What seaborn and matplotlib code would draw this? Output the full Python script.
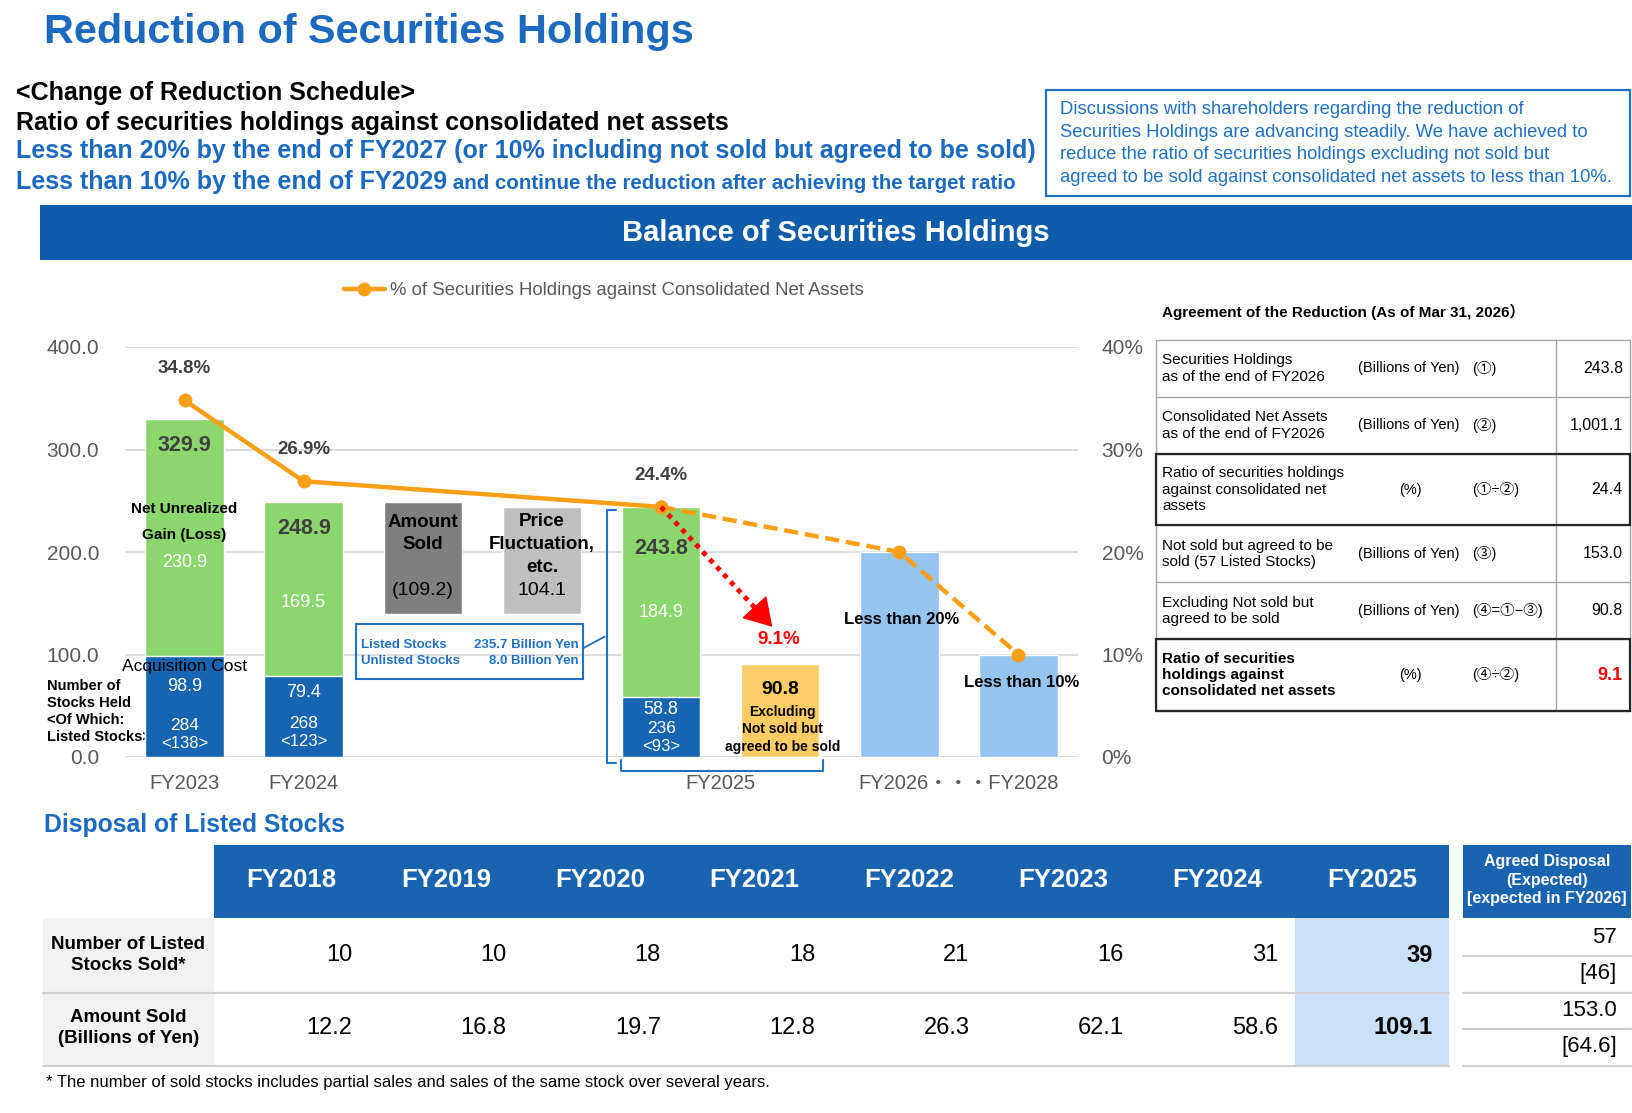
import numpy as np
import pandas as pd
import matplotlib.pyplot as plt
import seaborn as sns
from matplotlib.patches import Rectangle

# ---- chart data (billions of yen / %) ----
categories = ['FY2023', 'FY2024', 'Amount Sold', 'Price Fluctuation',
              'FY2025', 'Excluding', 'FY2026', 'FY2028']
balance_total = [329.9, 248.9, 243.8]
acquisition_cost = [98.9, 79.4, 58.8]
unrealized_gain = [230.9, 169.5, 184.9]
stocks_held = [284, 268, 236]
listed_held = [138, 123, 93]
balance_years = ['FY2023', 'FY2024', 'FY2025']
amount_sold = 109.2
price_fluct = 104.1
excluding_agreed = 90.8
ratio_pct = [34.8, 26.9, 24.4]
target_pct = [20, 10]
excl_ratio = 9.1
listed_balance = 235.7
unlisted_balance = 8.0

# ---- agreement table ----
agree_items = ['Securities Holdings\nas of the end of FY2026',
               'Consolidated Net Assets\nas of the end of FY2026',
               'Ratio of securities holdings\nagainst consolidated net\nassets',
               'Not sold but agreed to be\nsold (57 Listed Stocks)',
               'Excluding Not sold but\nagreed to be sold',
               'Ratio of securities\nholdings against\nconsolidated net assets']
agree_units = ['(Billions of Yen)', '(Billions of Yen)', '(%)',
               '(Billions of Yen)', '(Billions of Yen)', '(%)']
agree_formula = ['(①)', '(②)', '(①÷②)', '(③)', '(④=①−③)', '(④÷②)']
agree_values = ['243.8', '1,001.1', '24.4', '153.0', '90.8', '9.1']

# ---- disposal table ----
disp_years = ['FY2018', 'FY2019', 'FY2020', 'FY2021', 'FY2022', 'FY2023', 'FY2024', 'FY2025']
disp_count = [10, 10, 18, 18, 21, 16, 31, 39]
disp_amount = [12.2, 16.8, 19.7, 12.8, 26.3, 62.1, 58.6, 109.1]
agreed_vals = ['57', '[46]', '153.0', '[64.6]']

W, H = 1633, 1113
TITLE_BLUE = '#1B6AC0'
BANNER = '#0F5DAA'
GREEN = '#8CD66E'
DBLUE = '#1565B0'
LBLUE = '#95C4F0'
ORANGE = '#FA9F16'
GRAYTXT = '#595959'
BRK = '#2070C4'

sns.set_theme(style='white')
plt.rcParams['font.family'] = ['Liberation Sans', 'Noto Sans CJK JP']
plt.rcParams['text.color'] = 'black'

fig = plt.figure(figsize=(W / 100, H / 100), dpi=100)
cv = fig.add_axes([0, 0, 1, 1], zorder=0)
cv.set_xlim(0, W)
cv.set_ylim(H, 0)
cv.axis('off')

# ---- header ----
cv.text(44, 32, 'Reduction of Securities Holdings', fontsize=29.8, weight='bold',
        color=TITLE_BLUE, va='center')
cv.text(16, 93, '<Change of Reduction Schedule>', fontsize=18, weight='bold', va='center')
cv.text(16, 123, 'Ratio of securities holdings against consolidated net assets',
        fontsize=18, weight='bold', va='center')
cv.text(16, 151, 'Less than 20% by the end of FY2027 (or 10% including not sold but agreed to be sold)',
        fontsize=18, weight='bold', color=TITLE_BLUE, va='center')
t = cv.text(16, 189, 'Less than 10% by the end of FY2029', fontsize=18, weight='bold',
            color=TITLE_BLUE, va='baseline')
bb = t.get_window_extent(renderer=fig.canvas.get_renderer())
cv.text(bb.x1, 189, ' and continue the reduction after achieving the target ratio',
        fontsize=14.8, weight='bold', color=TITLE_BLUE, va='baseline')

cv.add_patch(Rectangle((1046, 90), 584, 106, fill=False, ec=BRK, lw=1.6))
box_lines = ['Discussions with shareholders regarding the reduction of',
             'Securities Holdings are advancing steadily. We have achieved to',
             'reduce the ratio of securities holdings excluding not sold but',
             'agreed to be sold against consolidated net assets to less than 10%.']
for i, s in enumerate(box_lines):
    cv.text(1060, 109.5 + i * 22.6, s, fontsize=13.3, color=BRK, va='center')

cv.add_patch(Rectangle((40, 205), W - 40, 55, fc=BANNER, ec='none'))
cv.text(836, 233, 'Balance of Securities Holdings', fontsize=21, weight='bold',
        color='white', ha='center', va='center')

# ---- main chart ----
ax = fig.add_axes([125 / W, 1 - 757 / H, (1078 - 125) / W, (757 - 347) / H])
ax.set_zorder(1)
ax.patch.set_visible(False)

df = pd.DataFrame({'category': balance_years, 'total': balance_total, 'acq': acquisition_cost})
sns.barplot(data=df, x='category', y='total', order=categories, color=GREEN,
            saturation=1, width=0.66, errorbar=None, ax=ax)
sns.barplot(data=df, x='category', y='acq', order=categories, color=DBLUE,
            saturation=1, width=0.66, errorbar=None, ax=ax)
sold_bottom = balance_total[1] - amount_sold
ax.bar(2, amount_sold, bottom=sold_bottom, width=0.66, color='#7F7F7F')
ax.bar(3, price_fluct, bottom=sold_bottom, width=0.66, color='#BFBFBF')
ax.bar(5, excluding_agreed, width=0.66, color='#FFCC66')

ax.set_xlim(-0.5, 7.5)
ax.set_ylim(0, 400)
ax.set_yticks(range(0, 401, 100), [f'{v:.1f}' for v in range(0, 401, 100)])
ax.yaxis.grid(True, color='#D9D9D9', lw=1.3)
ax.set_axisbelow(True)
for s in ax.spines.values():
    s.set_visible(False)
ax.set_xticks([0, 1, 4.5, 6.5], ['FY2023', 'FY2024', 'FY2025', 'FY2026・・・FY2028'])
ax.tick_params(axis='x', length=0, pad=12, labelsize=14.5, labelcolor=GRAYTXT)
ax.tick_params(axis='y', length=0, pad=18.5, labelsize=15, labelcolor=GRAYTXT)
ax.set_xlabel('')
ax.set_ylabel('')

ax2 = ax.twinx()
ax2.set_zorder(2)
ax2.patch.set_visible(False)
ax2.bar([6, 7], target_pct, width=0.66, color=LBLUE)
ax2.set_ylim(0, 40)
ax2.set_yticks(range(0, 41, 10), [f'{v}%' for v in range(0, 41, 10)])
ax2.tick_params(axis='y', length=0, pad=17, labelsize=15, labelcolor=GRAYTXT)
for s in ax2.spines.values():
    s.set_visible(False)
ax2.grid(False)

line_pos = [0, 1, 4]
sns.lineplot(x=line_pos, y=ratio_pct, ax=ax2, color=ORANGE, lw=3.2, marker='o',
             markersize=10, markeredgewidth=0)
sns.lineplot(x=[4, 6, 7], y=[ratio_pct[-1]] + target_pct, ax=ax2, color=ORANGE, lw=3.2,
             linestyle=(0, (3.2, 1.5)), marker='o', markersize=10, markeredgewidth=0)

# red dotted arrow to the ratio excluding agreed sales
ax2.plot([4, 4.84], [ratio_pct[-1], 13.9], color='red', lw=3.5, linestyle=(0, (1, 1.1)))
ax2.annotate('', xy=(4.95, 12.5), xytext=(4.84, 13.9),
             arrowprops=dict(arrowstyle='-|>,head_length=0.9,head_width=0.55',
                             color='red', lw=1, mutation_scale=20))

# labels
for p, v in zip(line_pos, ratio_pct):
    ax2.text(p, v + 3.1, f'{v}%', ha='center', va='center', fontsize=13.5,
             weight='bold', color='#404040')
for p, v, y in zip([0, 1, 4], balance_total, [303.5, 223.4, 203]):
    ax.text(p, y, f'{v:.1f}', ha='center', va='center', fontsize=15.5, weight='bold', color='#404040')
for p, v, y in zip([0, 1, 4], unrealized_gain, [189.8, 150.3, 141]):
    ax.text(p, y, f'{v:.1f}', ha='center', va='center', fontsize=13, color='white')
for p, v, y in zip([0, 1, 4], acquisition_cost, [69, 63, 46.7]):
    ax.text(p, y, f'{v:.1f}', ha='center', va='center', fontsize=13, color='white')
for p, n, m, y in zip([0, 1, 4], stocks_held, listed_held, [30.5, 32.5, 27.4]):
    ax.text(p, y, f'{n}', ha='center', va='center', fontsize=12.5, color='white')
    ax.text(p, y - 17.5, f'<{m}>', ha='center', va='center', fontsize=12, color='white')

ax.text(0, 241.6, 'Net Unrealized', ha='center', va='center', fontsize=11, weight='bold')
ax.text(0, 217, 'Gain (Loss)', ha='center', va='center', fontsize=11, weight='bold')
ax.text(0, 88.3, 'Acquisition Cost', ha='center', va='center', fontsize=12.5)
for i, s in enumerate(['Number of', 'Stocks Held', '<Of Which:', 'Listed Stocks>']):
    cv.text(47, 685.5 + i * 17.3, s, fontsize=10.5, weight='bold', va='center')

ax.text(2, 228.4, 'Amount', ha='center', va='center', fontsize=13.5, weight='bold')
ax.text(2, 207.1, 'Sold', ha='center', va='center', fontsize=13.5, weight='bold')
ax.text(2, 162.4, f'({amount_sold})', ha='center', va='center', fontsize=14)
for s, y in zip(['Price', 'Fluctuation,', 'etc.'], [229.4, 207, 184.8]):
    ax.text(3, y, s, ha='center', va='center', fontsize=13.5, weight='bold')
ax.text(3, 162.4, f'{price_fluct}', ha='center', va='center', fontsize=14)

ax.add_patch(Rectangle((1.437, 76.1), 3.344 - 1.437, 129.4 - 76.1, fill=False,
                       ec=BRK, lw=1.5, clip_on=False, zorder=5))
ax.text(1.48, 109.3, 'Listed Stocks', fontsize=9.5, weight='bold', color=BRK, va='center')
ax.text(3.31, 109.3, f'{listed_balance} Billion Yen', fontsize=9.5, weight='bold',
        color=BRK, va='center', ha='right')
ax.text(1.48, 93.7, 'Unlisted Stocks', fontsize=9.5, weight='bold', color=BRK, va='center')
ax.text(3.31, 93.7, f'{unlisted_balance} Billion Yen', fontsize=9.5, weight='bold',
        color=BRK, va='center', ha='right')
ax.plot([3.344, 3.527], [106, 117.5], color=BRK, lw=1.3, clip_on=False)
ax.plot([3.624, 3.548, 3.548, 3.624], [240.6, 240.6, -5.5, -5.5], color=BRK, lw=1.5, clip_on=False)
ax.plot([3.66, 3.66, 5.36, 5.36], [-3.4, -14.1, -14.1, -3.4], color=BRK, lw=1.5, clip_on=False)

ax.text(4.99, 114.7, f'{excl_ratio}%', ha='center', va='center', fontsize=13.5,
        weight='bold', color='red')
ax.text(5.0, 66, f'{excluding_agreed}', ha='center', va='center', fontsize=14, weight='bold')
for s, y in zip(['Excluding', 'Not sold but', 'agreed to be sold'], [43.7, 27.4, 10.2]):
    ax.text(5.02, y, s, ha='center', va='center', fontsize=10, weight='bold')
ax2.text(6.02, 13.4, f'Less than {target_pct[0]}%', ha='center', va='center', fontsize=12, weight='bold')
ax2.text(7.03, 7.31, f'Less than {target_pct[1]}%', ha='center', va='center', fontsize=12, weight='bold')

fig.legend(handles=[ax2.lines[0]], labels=['% of Securities Holdings against Consolidated Net Assets'],
           loc='center left', bbox_to_anchor=(344 / W, 1 - 290.5 / H), frameon=False,
           fontsize=13.4, labelcolor=GRAYTXT, handlelength=2.2, handletextpad=0.25,
           borderaxespad=0, borderpad=0)

# ---- agreement table ----
cv.text(1162, 311.7, 'Agreement of the Reduction (As of Mar 31, 2026）', fontsize=11,
        weight='bold', va='center')
row_edges = [340, 396.7, 454, 525.3, 582.3, 639.3, 710.7]
tl, tm, tr = 1155.7, 1555.7, 1630
for y in row_edges:
    cv.plot([tl, tr], [y, y], color='#A6A6A6', lw=1)
for x in [tl, tm, tr]:
    cv.plot([x, x], [row_edges[0], row_edges[-1]], color='#A6A6A6', lw=1)
for r in [2, 5]:
    cv.add_patch(Rectangle((tl, row_edges[r]), tr - tl, row_edges[r + 1] - row_edges[r],
                           fill=False, ec='#262626', lw=1.6, zorder=3))
for r in range(6):
    yc = (row_edges[r] + row_edges[r + 1]) / 2
    last = r == 5
    cv.text(tl + 6.5, yc, agree_items[r], fontsize=11, va='center', linespacing=1.22,
            weight='bold' if last else 'normal')
    if agree_units[r] == '(%)':
        cv.text(1410, yc, agree_units[r], fontsize=10.5, va='center', ha='center')
    else:
        cv.text(1358, yc, agree_units[r], fontsize=10.5, va='center')
    cv.text(1472, yc, agree_formula[r], fontsize=10.5, va='center')
    cv.text(1623, yc, agree_values[r], fontsize=11.5 if not last else 13, va='center', ha='right',
            color='red' if last else 'black', weight='bold' if last else 'normal')

# ---- disposal table ----
cv.text(44, 825, 'Disposal of Listed Stocks', fontsize=17.8, weight='bold', color=TITLE_BLUE, va='center')
hx0, hx1, cw = 214.5, 1449, (1449 - 214.5) / 8
cv.add_patch(Rectangle((hx0, 845), hx1 - hx0, 72.5, fc='#1A64AF', ec='none'))
cv.add_patch(Rectangle((43, 917.5), hx0 - 43, 148, fc='#F2F2F2', ec='none'))
cv.add_patch(Rectangle((hx0 + 7 * cw, 917.5), cw, 148, fc='#C9E0F6', ec='none'))
for y in [992.5, 1065.5]:
    cv.plot([43, hx1], [y, y], color='#D0D0D0', lw=1.6)
cv.text(128.5, 955, 'Number of Listed\nStocks Sold*', fontsize=13.5, weight='bold',
        ha='center', va='center', linespacing=1.38)
cv.text(128.5, 1028, 'Amount Sold\n(Billions of Yen)', fontsize=13.5, weight='bold',
        ha='center', va='center', linespacing=1.38)
for i, yr in enumerate(disp_years):
    cx = hx0 + (i + 0.5) * cw
    rx = hx0 + (i + 1) * cw - 16.5
    bold = 'bold' if i == len(disp_years) - 1 else 'normal'
    cv.text(cx, 880, yr, fontsize=18.5, weight='bold', color='white', ha='center', va='center')
    cv.text(rx, 955, f'{disp_count[i]}', fontsize=17, ha='right', va='center', weight=bold)
    cv.text(rx, 1028, f'{disp_amount[i]:.1f}', fontsize=17, ha='right', va='center', weight=bold)

cv.add_patch(Rectangle((1463, 845), 168, 72.5, fc='#1A64AF', ec='none'))
cv.text(1547, 880, 'Agreed Disposal\n(Expected)\n[expected in FY2026]', fontsize=11.5,
        weight='bold', color='white', ha='center', va='center', linespacing=1.28)
for y in [956, 992.5, 1029, 1065.5]:
    cv.plot([1463, 1631], [y, y], color='#D0D0D0', lw=1.6)
for s, y in zip(agreed_vals, [937.5, 974, 1010, 1046.5]):
    cv.text(1617, y, s, fontsize=16, ha='right', va='center')

cv.text(46, 1083, '* The number of sold stocks includes partial sales and sales of the same stock over several years.',
        fontsize=12, va='center')

fig.savefig('out.png', dpi=100)
